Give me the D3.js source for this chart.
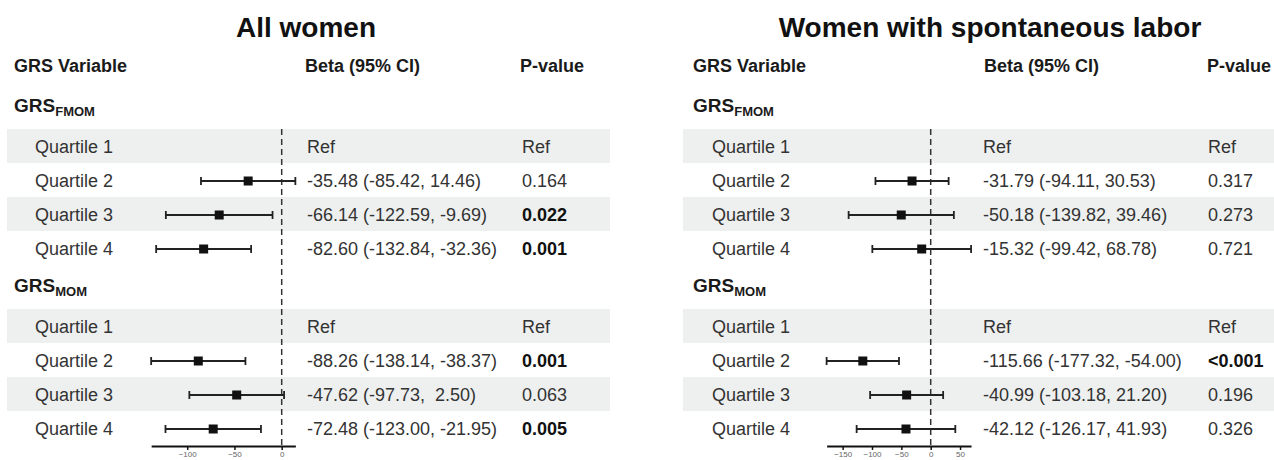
<!DOCTYPE html>
<html>
<head>
<meta charset="utf-8">
<script src="https://cdn.jsdelivr.net/npm/d3@7"></script>
<style>
  html, body { margin: 0; padding: 0; background: #fff; }
  svg { display: block; font-family: "Liberation Sans", Arial, sans-serif; }
  .pre { white-space: pre; }
</style>
</head>
<body>
<svg id="chart" width="1274" height="460"></svg>
<script>
// ---------- data ----------
const panelTitles = ["All women", "Women with spontaneous labor"];
const groupNames = ["FMOM", "MOM"];
const quartiles = ["Quartile 1", "Quartile 2", "Quartile 3", "Quartile 4"];
const headers = ["GRS Variable", "Beta (95% CI)", "P-value"];

// All women
const allFmomBeta = [null, -35.48, -66.14, -82.60];
const allFmomLow  = [null, -85.42, -122.59, -132.84];
const allFmomHigh = [null, 14.46, -9.69, -32.36];
const allFmomP    = ["Ref", "0.164", "0.022", "0.001"];
const allMomBeta  = [null, -88.26, -47.62, -72.48];
const allMomLow   = [null, -138.14, -97.73, -123.00];
const allMomHigh  = [null, -38.37, 2.50, -21.95];
const allMomP     = ["Ref", "0.001", "0.063", "0.005"];

// Women with spontaneous labor
const spFmomBeta = [null, -31.79, -50.18, -15.32];
const spFmomLow  = [null, -94.11, -139.82, -99.42];
const spFmomHigh = [null, 30.53, 39.46, 68.78];
const spFmomP    = ["Ref", "0.317", "0.273", "0.721"];
const spMomBeta  = [null, -115.66, -40.99, -42.12];
const spMomLow   = [null, -177.32, -103.18, -126.17];
const spMomHigh  = [null, -54.00, 21.20, 41.93];
const spMomP     = ["Ref", "<0.001", "0.196", "0.326"];

const allTicks = [-100, -50, 0];
const spTicks = [-150, -100, -50, 0, 50];

// ---------- build ----------
function makeGroups(beta, low, high, p) {
  return quartiles.map((q, i) => ({ q, beta: beta[i], low: low[i], high: high[i], p: p[i] }));
}
const panelsData = [
  { title: panelTitles[0], ticks: allTicks,
    groups: [makeGroups(allFmomBeta, allFmomLow, allFmomHigh, allFmomP),
             makeGroups(allMomBeta, allMomLow, allMomHigh, allMomP)] },
  { title: panelTitles[1], ticks: spTicks,
    groups: [makeGroups(spFmomBeta, spFmomLow, spFmomHigh, spFmomP),
             makeGroups(spMomBeta, spMomLow, spMomHigh, spMomP)] }
];

// layout (positions only)
const layouts = [
  { bandX0: 7, bandX1: 610, titleX: 306, hx: [14, 305, 520], labelX: 35, betaX: 307, pX: 522, zeroX: 281.7, k: 0.945 },
  { bandX0: 683, bandX1: 1274, titleX: 990, hx: [693, 984, 1207], labelX: 712, betaX: 983, pX: 1208, zeroX: 930.7, k: 0.587 }
];
const groupBaselines = [112, 292];
const rowStep = 34;
const firstRowOffset = 35;
const axisY = 446;
const dashTop = 129;

const svg = d3.select("#chart");

function fmt(v) { return v.toFixed(2); }
function betaText(d) {
  if (d.beta === null) return "Ref";
  const pad = (d.high >= 0 && d.high < 10) ? " " : "";
  return `${fmt(d.beta)} (${fmt(d.low)}, ${pad}${fmt(d.high)})`;
}
function isBold(p) {
  if (p === "Ref") return false;
  return parseFloat(p.replace("<", "")) < 0.05;
}

panelsData.forEach((panel, pi) => {
  const L = layouts[pi];
  const g = svg.append("g");

  const all = panel.groups.flat().filter(d => d.beta !== null);
  const ext = [d3.min(all, d => d.low), d3.max(all, d => d.high)];
  const x = d3.scaleLinear().domain(ext).range(ext.map(v => L.zeroX + L.k * v));

  const rowY = (gi, i) => groupBaselines[gi] + firstRowOffset + i * rowStep;

  // shaded bands (odd quartiles)
  panel.groups.forEach((grp, gi) => {
    grp.forEach((d, i) => {
      if (i % 2 === 0) {
        g.append("rect")
          .attr("x", L.bandX0).attr("width", L.bandX1 - L.bandX0)
          .attr("y", rowY(gi, i) - 18).attr("height", 34)
          .attr("fill", "#eef0ef");
      }
    });
  });

  // title
  g.append("text").attr("x", L.titleX).attr("y", 37)
    .attr("text-anchor", "middle").attr("font-size", 28).attr("font-weight", "bold")
    .attr("fill", "#111").text(panel.title);

  // headers
  headers.forEach((h, hi) => {
    g.append("text").attr("x", L.hx[hi]).attr("y", 72)
      .attr("font-size", 18).attr("font-weight", "bold").attr("fill", "#1a1a1a").text(h);
  });

  // group labels
  groupNames.forEach((gn, gi) => {
    const t = g.append("text").attr("x", L.hx[0]).attr("y", groupBaselines[gi])
      .attr("font-weight", "bold").attr("fill", "#1a1a1a");
    t.append("tspan").attr("font-size", 19).text("GRS");
    t.append("tspan").attr("font-size", 13).attr("dy", 4).text(gn);
  });

  // dashed zero line
  g.append("line")
    .attr("x1", x(0)).attr("x2", x(0)).attr("y1", dashTop).attr("y2", axisY)
    .attr("stroke", "#333").attr("stroke-width", 1.5).attr("stroke-dasharray", "6,4");

  // rows
  panel.groups.forEach((grp, gi) => {
    grp.forEach((d, i) => {
      const y = rowY(gi, i);
      g.append("text").attr("x", L.labelX).attr("y", y).attr("dy", "0.35em")
        .attr("font-size", 18).attr("fill", "#333").text(d.q);
      g.append("text").attr("class", "pre").attr("x", L.betaX).attr("y", y).attr("dy", "0.35em")
        .attr("font-size", 18).attr("fill", "#333").text(betaText(d));
      const b = isBold(d.p);
      g.append("text").attr("x", L.pX).attr("y", y).attr("dy", "0.35em")
        .attr("font-size", 18).attr("font-weight", b ? "bold" : "normal")
        .attr("fill", b ? "#111" : "#333").text(d.p);

      if (d.beta !== null) {
        const ci = g.append("g").attr("stroke", "#222").attr("stroke-width", 1.8);
        ci.append("line").attr("x1", x(d.low)).attr("x2", x(d.high)).attr("y1", y).attr("y2", y);
        ci.append("line").attr("x1", x(d.low)).attr("x2", x(d.low)).attr("y1", y - 4).attr("y2", y + 4);
        ci.append("line").attr("x1", x(d.high)).attr("x2", x(d.high)).attr("y1", y - 4).attr("y2", y + 4);
        g.append("rect").attr("x", x(d.beta) - 4.5).attr("y", y - 4.5)
          .attr("width", 9).attr("height", 9).attr("fill", "#111");
      }
    });
  });

  // axis
  const axis = d3.axisBottom(x).tickValues(panel.ticks).tickSize(4).tickSizeOuter(0).tickPadding(1);
  const ag = g.append("g").attr("transform", `translate(0,${axisY})`).call(axis);
  ag.select(".domain").attr("stroke", "#111").attr("stroke-width", 2);
  ag.selectAll(".tick line").attr("stroke", "#111").attr("stroke-width", 1.5);
  ag.selectAll(".tick text").attr("font-size", 8).attr("fill", "#666")
    .attr("font-family", "Liberation Sans, Arial, sans-serif");
});
</script>
</body>
</html>
